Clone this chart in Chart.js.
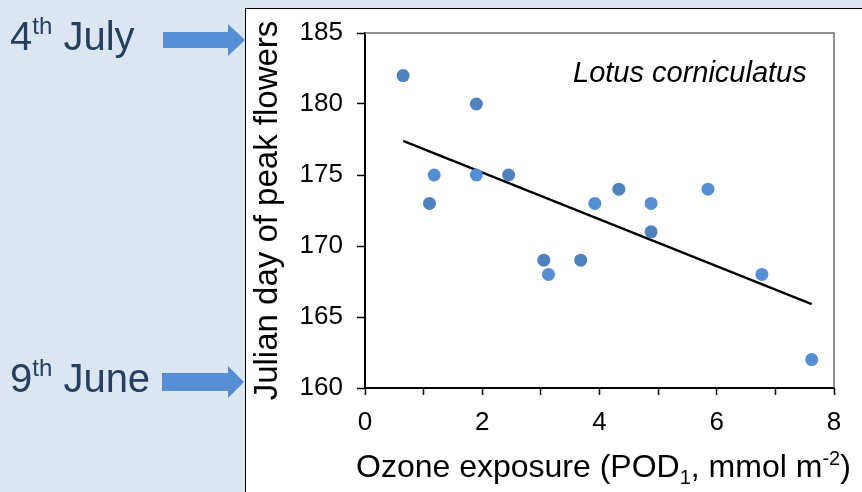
<!DOCTYPE html>
<html>
<head>
<meta charset="utf-8">
<script src="https://cdn.jsdelivr.net/npm/chart.js@4.4.0/dist/chart.umd.min.js"></script>
<style>
  html, body { margin: 0; padding: 0; }
  body { width: 862px; height: 492px; background: #dce6f1; position: relative; overflow: hidden;
         font-family: "Liberation Sans", Arial, sans-serif; }
  #panel { position: absolute; left: 245px; top: 8px; width: 617px; height: 484px; background: #fff;
           border-left: 1px solid #000; border-top: 1px solid #000; box-sizing: border-box; }
  #chart { position: absolute; left: 0; top: 0; }
  .date { position: absolute; left: 10px; font-size: 40px; line-height: 40px; color: #243f60; white-space: nowrap; }
  .date sup { font-size: 24px; vertical-align: baseline; position: relative; top: -16px; }
  .arrow { position: absolute; left: 0; top: 0; }
  #species { position: absolute; left: 573px; top: 58px; font-size: 29px; line-height: 29px; font-style: italic; color: #000; white-space: nowrap; }
  #xtitle { position: absolute; left: 356px; top: 450px; font-size: 32px; line-height: 32px; color: #000; white-space: nowrap; }
  #xtitle sub { font-size: 20px; vertical-align: baseline; position: relative; top: 7px; }
  #xtitle sup { font-size: 20px; vertical-align: baseline; position: relative; top: -12px; }
</style>
</head>
<body>
<div id="panel"></div>
<canvas id="chart" width="862" height="492"></canvas>

<svg class="arrow" width="862" height="492">
  <polygon points="163,32 228,32 228,24 245,40 228,56 228,48 163,48" fill="#558ed5"/>
  <polygon points="162,373 228,373 228,366 244,382 228,398 228,391 162,391" fill="#558ed5"/>
</svg>
<div class="date" style="top:16px;">4<sup>th</sup> July</div>
<div class="date" style="top:358px;">9<sup>th</sup> June</div>
<div id="species">Lotus corniculatus</div>
<div id="xtitle">Ozone exposure (POD<sub>1</sub>, mmol m<sup>-2</sup>)</div>

<script>
// values
const darkX = [0.65, 1.1, 1.9, 2.45, 3.05, 3.68, 4.33, 4.88];
const darkY = [182, 173, 180, 175, 169, 169, 174, 171];
const lightX = [1.18, 1.9, 3.13, 3.92, 4.88, 5.85, 6.77, 7.62];
const lightY = [175, 175, 168, 173, 173, 174, 168, 162];
const trendX = [0.65, 7.62];
const trendY = [177.4, 165.9];

const xTicks = [0, 1, 2, 3, 4, 5, 6, 7, 8];
const xTickLabels = ['0', '', '2', '', '4', '', '6', '', '8'];
const yTicks = [160, 165, 170, 175, 180, 185];

const FONT = '"Liberation Sans", Arial, sans-serif';
const toPoints = (xs, ys) => xs.map((x, i) => ({ x: x, y: ys[i] }));

// top and right edge of the plot box
const plotFrame = {
    id: 'plotFrame',
    beforeDatasetsDraw(chart) {
        const { ctx, chartArea: a } = chart;
        ctx.save();
        ctx.strokeStyle = '#6e6e6e';
        ctx.lineWidth = 1.5;
        ctx.beginPath();
        ctx.moveTo(a.left, a.top);
        ctx.lineTo(a.right, a.top);
        ctx.lineTo(a.right, a.bottom);
        ctx.stroke();
        ctx.restore();
    }
};

const ctx = document.getElementById('chart').getContext('2d');
new Chart(ctx, {
    type: 'scatter',
    data: {
        datasets: [
            { data: toPoints(darkX, darkY), backgroundColor: '#4f81bd', pointRadius: 6.5, borderWidth: 0, order: 1 },
            { data: toPoints(lightX, lightY), backgroundColor: '#558ed5', pointRadius: 6.5, borderWidth: 0, order: 2 },
            { data: toPoints(trendX, trendY), showLine: true, borderColor: '#000', borderWidth: 2.4, pointRadius: 0, order: 3 }
        ]
    },
    options: {
        responsive: false,
        animation: false,
        devicePixelRatio: 1,
        layout: { padding: { left: 245, top: 33, right: 28, bottom: 0 } },
        plugins: { legend: { display: false }, tooltip: { enabled: false } },
        scales: {
            x: {
                type: 'linear', min: 0, max: 8,
                afterBuildTicks: s => { s.ticks = xTicks.map(v => ({ value: v })); },
                afterFit: s => { s.height = 104; },
                ticks: {
                    autoSkip: false, maxRotation: 0, padding: 12, color: '#000',
                    font: { family: FONT, size: 26 },
                    callback: (v, i) => xTickLabels[i]
                },
                grid: { drawOnChartArea: false, tickLength: 7, color: '#000', tickWidth: 1.5 },
                border: { color: '#000', width: 2 }
            },
            y: {
                type: 'linear', min: 160, max: 185,
                afterBuildTicks: s => { s.ticks = yTicks.map(v => ({ value: v })); },
                afterFit: s => { s.width = 120; },
                ticks: { padding: 14, color: '#000', font: { family: FONT, size: 26 } },
                grid: { drawOnChartArea: false, tickLength: 8, color: '#000', tickWidth: 1.5 },
                border: { color: '#000', width: 2 },
                title: {
                    display: true, text: 'Julian day of peak flowers', color: '#000',
                    font: { family: FONT, size: 33 }, padding: { top: 3, bottom: 0 }
                }
            }
        }
    },
    plugins: [plotFrame]
});
</script>
</body>
</html>
